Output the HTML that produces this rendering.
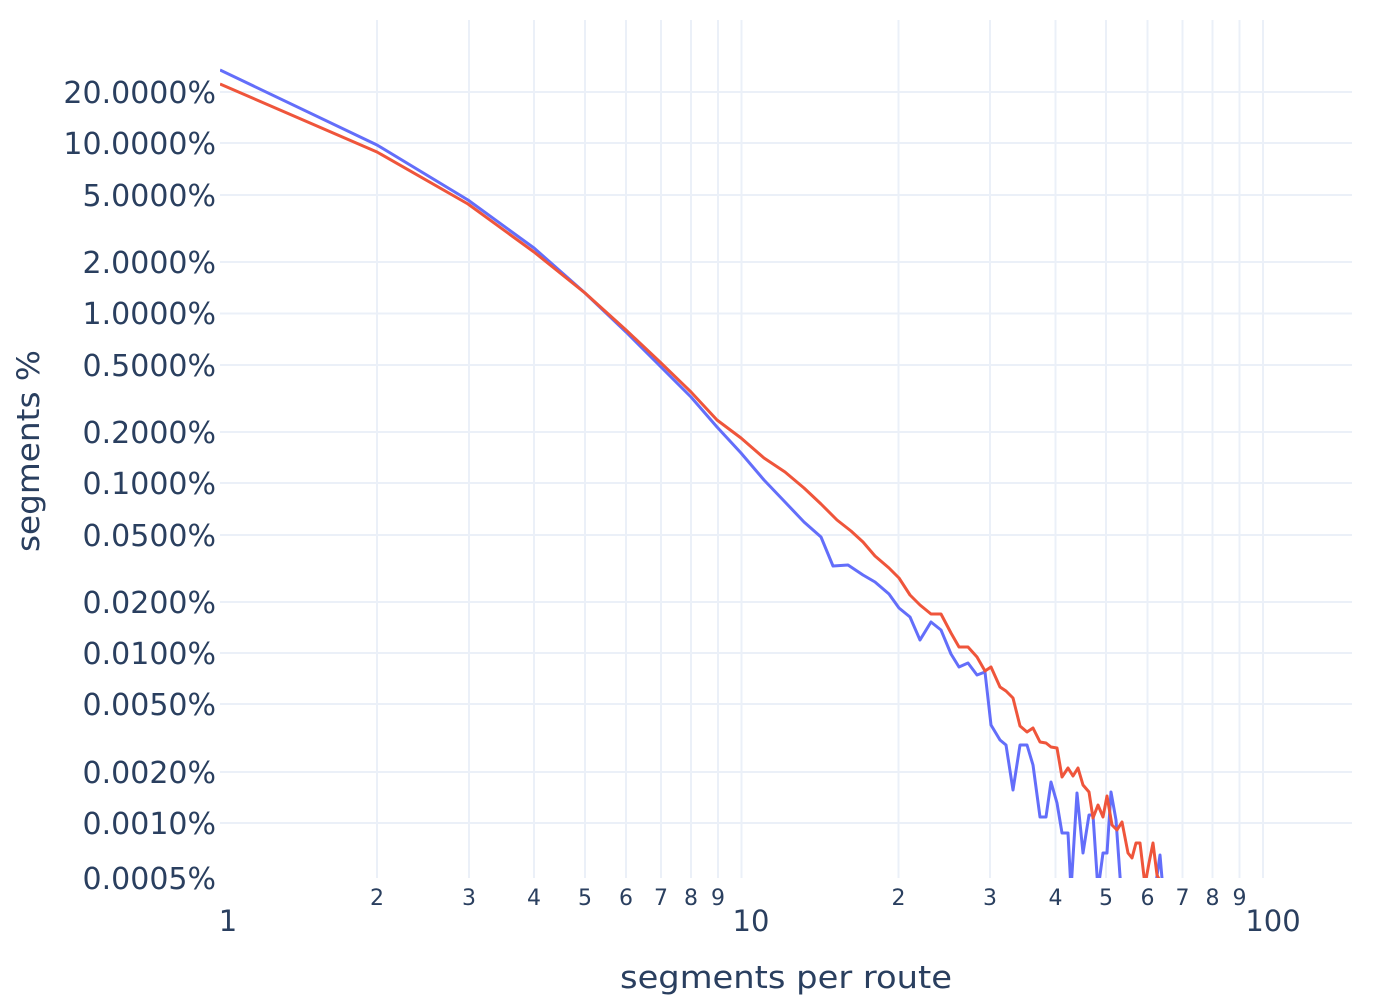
<!DOCTYPE html>
<html><head><meta charset="utf-8"><style>
html,body{margin:0;padding:0;background:#fff;}
svg text{font-family:"DejaVu Sans",sans-serif;fill:#2a3f5f;}
</style></head><body>
<svg width="1400" height="1000" viewBox="0 0 1400 1000" xmlns="http://www.w3.org/2000/svg">
<defs><clipPath id="c"><rect x="220" y="20" width="1132" height="858"/></clipPath></defs>
<g stroke="#ebf0f8" stroke-width="2">
<line x1="377" y1="20" x2="377" y2="878"/><line x1="469" y1="20" x2="469" y2="878"/><line x1="534" y1="20" x2="534" y2="878"/><line x1="585" y1="20" x2="585" y2="878"/><line x1="626" y1="20" x2="626" y2="878"/><line x1="661" y1="20" x2="661" y2="878"/><line x1="691" y1="20" x2="691" y2="878"/><line x1="718" y1="20" x2="718" y2="878"/><line x1="741.5" y1="20" x2="741.5" y2="878"/><line x1="898.5" y1="20" x2="898.5" y2="878"/><line x1="990" y1="20" x2="990" y2="878"/><line x1="1055.5" y1="20" x2="1055.5" y2="878"/><line x1="1106" y1="20" x2="1106" y2="878"/><line x1="1147.5" y1="20" x2="1147.5" y2="878"/><line x1="1182.5" y1="20" x2="1182.5" y2="878"/><line x1="1212.5" y1="20" x2="1212.5" y2="878"/><line x1="1239.5" y1="20" x2="1239.5" y2="878"/><line x1="1263" y1="20" x2="1263" y2="878"/>
<line x1="220" y1="92" x2="1352" y2="92"/><line x1="220" y1="143" x2="1352" y2="143"/><line x1="220" y1="195" x2="1352" y2="195"/><line x1="220" y1="262" x2="1352" y2="262"/><line x1="220" y1="313.5" x2="1352" y2="313.5"/><line x1="220" y1="365" x2="1352" y2="365"/><line x1="220" y1="432" x2="1352" y2="432"/><line x1="220" y1="483" x2="1352" y2="483"/><line x1="220" y1="535" x2="1352" y2="535"/><line x1="220" y1="602" x2="1352" y2="602"/><line x1="220" y1="653" x2="1352" y2="653"/><line x1="220" y1="704" x2="1352" y2="704"/><line x1="220" y1="772" x2="1352" y2="772"/><line x1="220" y1="823" x2="1352" y2="823"/>
</g>
<g clip-path="url(#c)" fill="none" stroke-width="3" stroke-linejoin="round">
<polyline stroke="#636efa" points="220,70 377,145 468,200 534,248 585,293 626,332 660,366 691,397 717,427 741,453 764,480 785,502 804,522 821,537 833,566 848,565 863,575 875,582 889,594 899,608 910,617 920,640 931,622 941,630 951,654 959,667 968,663 977,675 985,672 991,725 1000,740 1006,745 1013,790 1020,745 1027,745 1033,765 1040,817 1046,817 1051,782 1057,803 1062,833 1068,833 1071,890 1077,793 1083,853 1089,815 1093,815 1098,890 1103,853 1107,853 1111,792 1116,820 1121,890 1155,890 1160,855 1163,890"/>
<polyline stroke="#ef553b" points="220,84 377,152 468,204 534,252 585,293 626,330 660,362 691,392 717,420 741,438 764,458 785,472 804,488 821,504 837,520 851,531 863,542 875,556 889,568 899,578 910,595 920,605 931,614 941,614 951,633 959,647 968,647 977,657 985,671 991,667 1000,687 1006,691 1013,698 1020,726 1027,732 1033,728 1040,742 1046,743 1051,747 1057,748 1062,777 1068,768 1073,776 1078,768 1083,785 1089,792 1093,818 1098,805 1103,817 1107,796 1112,825 1117,830 1122,822 1128,853 1132,858 1136,843 1140,843 1145,885 1149,863 1153,843 1157,875 1162,885"/>
</g>
<g font-size="30" text-anchor="end">
<text x="216" y="103">20.0000%</text><text x="216" y="154">10.0000%</text><text x="216" y="206">5.0000%</text><text x="216" y="273">2.0000%</text><text x="216" y="324">1.0000%</text><text x="216" y="376">0.5000%</text><text x="216" y="443">0.2000%</text><text x="216" y="494">0.1000%</text><text x="216" y="546">0.0500%</text><text x="216" y="613">0.0200%</text><text x="216" y="664">0.0100%</text><text x="216" y="715">0.0050%</text><text x="216" y="783">0.0020%</text><text x="216" y="834">0.0010%</text><text x="216" y="889">0.0005%</text>
</g>
<g font-size="22" text-anchor="middle">
<text x="377" y="905">2</text><text x="469" y="905">3</text><text x="534" y="905">4</text><text x="585" y="905">5</text><text x="626" y="905">6</text><text x="661" y="905">7</text><text x="691" y="905">8</text><text x="718" y="905">9</text>
<text x="898.5" y="905">2</text><text x="990" y="905">3</text><text x="1055.5" y="905">4</text><text x="1106" y="905">5</text><text x="1147.5" y="905">6</text><text x="1182.5" y="905">7</text><text x="1212.5" y="905">8</text><text x="1239.5" y="905">9</text>
</g>
<g font-size="29" text-anchor="middle">
<text x="228" y="931">1</text><text x="751" y="931">10</text><text x="1273" y="931">100</text>
</g>
<text x="620" y="988" font-size="31" textLength="332" lengthAdjust="spacingAndGlyphs">segments per route</text>
<text transform="translate(39,552) rotate(-90)" font-size="31" textLength="202" lengthAdjust="spacingAndGlyphs">segments %</text>
</svg>
</body></html>
